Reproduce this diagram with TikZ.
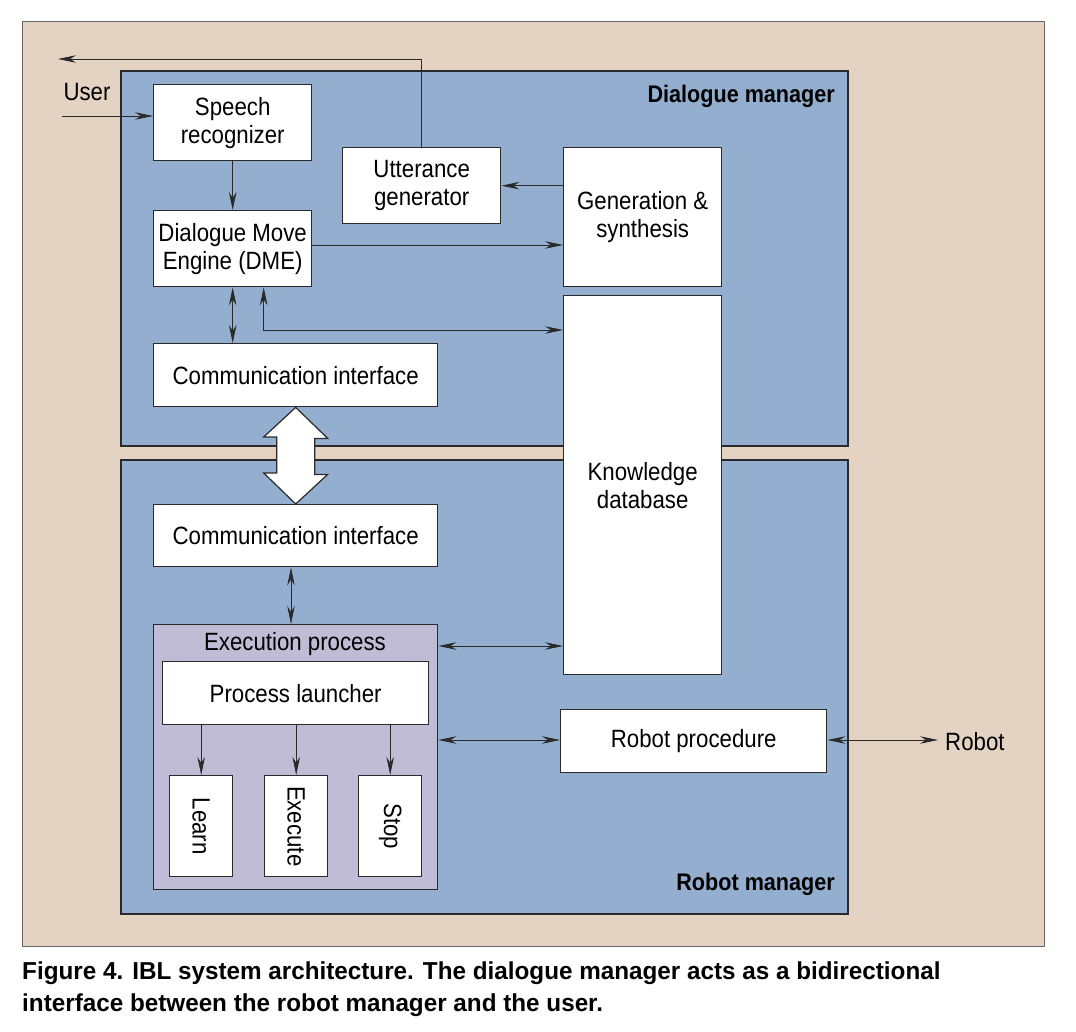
\documentclass[tikz,border=0pt]{standalone}
\usepackage{fontspec}
\setmainfont{Liberation Sans}[FakeStretch=0.89]
\newfontfamily\capfont{Liberation Sans}[FakeStretch=0.99]
\newfontfamily\tfont{Liberation Sans}[FakeStretch=0.9]
\usetikzlibrary{arrows.meta}
\definecolor{beige}{HTML}{E4D3C2}
\definecolor{panel}{HTML}{93AECF}
\definecolor{lav}{HTML}{C0BCD6}
\definecolor{edge}{HTML}{2A2A2A}
\tikzset{
  box/.style={draw=edge,line width=1.4pt,fill=white,inner sep=0pt,align=center,
    font=\fontsize{25}{28}\selectfont},
  conn/.style={draw=edge,line width=0.8pt,-{Stealth[length=18pt,width=7.5pt]}},
  conn2/.style={draw=edge,line width=0.8pt,{Stealth[length=18pt,width=7.5pt]}-{Stealth[length=18pt,width=7.5pt]}},
  lbl/.style={font=\fontsize{25}{28}\selectfont,inner sep=0pt},
  title/.style={font=\tfont\fontsize{24}{26}\selectfont\bfseries,inner sep=0pt,anchor=east},
}
\begin{document}
\begin{tikzpicture}[x=1pt,y=-1pt]
\useasboundingbox (0,0) rectangle (1076,1032);
\fill[white] (0,0) rectangle (1076,1032);
% outer panel
\draw[fill=beige,draw=gray!80!black,line width=1pt] (22,22) rectangle (1044,946);
% manager panels
\draw[fill=panel,draw=edge,line width=1.4pt] (121,71) rectangle (848,446);
\draw[fill=panel,draw=edge,line width=1.4pt] (121,460) rectangle (848,914);
\node[title] (dmt) at (835,96) {Dialogue manager};
\node[title] (rmt) at (835,884) {Robot manager};
% nodes
\node[box,minimum width=158pt,minimum height=76pt,anchor=north west] (sr) at (153,84) {Speech\\recognizer};
\node[box,minimum width=158pt,minimum height=76pt,anchor=north west] (ug) at (342,147) {Utterance\\generator};
\node[box,minimum width=158pt,minimum height=139pt,anchor=north west] (gs) at (563,147) {Generation \&\\synthesis};
\node[box,minimum width=158pt,minimum height=76pt,anchor=north west] (dme) at (153,210) {Dialogue Move\\Engine (DME)};
\node[box,minimum width=158pt,minimum height=379pt,anchor=north west] (kd) at (563,295) {Knowledge\\database};
\node[box,minimum width=284pt,minimum height=63pt,anchor=north west] (ci1) at (153,343) {Communication interface};
\node[box,minimum width=284pt,minimum height=62pt,anchor=north west] (ci2) at (153,504) {Communication interface};
\node[box,fill=lav,minimum width=284pt,minimum height=265pt,anchor=north west] (ep) at (153,624) {};
\node[lbl] (ept) at (295,644) {Execution process};
\node[box,minimum width=266pt,minimum height=63pt,anchor=north west] (pl) at (162,661) {Process launcher};
\node[box,minimum width=63pt,minimum height=101pt,anchor=north west] (ln) at (169,775) {};
\node[box,minimum width=63pt,minimum height=101pt,anchor=north west] (ex) at (264,775) {};
\node[box,minimum width=63pt,minimum height=101pt,anchor=north west] (st) at (358,775) {};
\node[lbl,rotate=-90] at (ln.center) {Learn};
\node[lbl,rotate=-90] at (ex.center) {Execute};
\node[lbl,rotate=-90] at (st.center) {Stop};
\node[box,minimum width=266pt,minimum height=63pt,anchor=north west] (rp) at (560,709) {Robot procedure};
\node[lbl] (user) at (87,92) {User};
\node[lbl,anchor=west] (robot) at (945,742) {Robot};
% connectors
\coordinate (uin) at (62,116);
\draw[conn] (uin) -- (uin -| sr.west);
\coordinate (uout) at (58,59);
\draw[conn] (ug.north) |- (uout);
\draw[conn] (sr.south) -- (dme.north);
\draw[conn] (gs.west |- ug.east) -- (ug.east);
\draw[conn] (dme.east |- 0,245) -- (gs.west |- 0,245);
\draw[conn2] (dme.south) -- (ci1.north -| dme.south);
\draw[conn2] ([xshift=31pt]dme.south) |- (kd.west |- 0,330);
\draw[conn2] (ci2.south -| 291,0) -- (ep.north -| 291,0);
\draw[conn2] (ep.east |- 0,646) -- (kd.west |- 0,646);
\draw[conn2] (ep.east |- 0,740) -- (rp.west |- 0,740);
\draw[conn2] (rp.east |- 0,740) -- (938,740);
\draw[conn] (pl.south -| ln.north) -- (ln.north);
\draw[conn] (pl.south -| ex.north) -- (ex.north);
\draw[conn] (pl.south -| st.north) -- (st.north);
% big double arrow
\draw[draw=edge,fill=white,line width=1.2pt]
  (ci1.south) -- ++(32,31) -- ++(-13,0) -- ++(0,36) -- ++(13,0) -- (ci2.north)
  -- ++(-32,-31) -- ++(13,0) -- ++(0,-36) -- ++(-13,0) -- cycle;
% caption
\node[anchor=north west,inner sep=0pt,align=left,font=\capfont\fontsize{24.5}{32}\selectfont\bfseries] (cap) at (22,962)
  {Figure 4. IBL system architecture. The dialogue manager acts as a bidirectional\\interface between the robot manager and the user.};
\end{tikzpicture}
\end{document}
